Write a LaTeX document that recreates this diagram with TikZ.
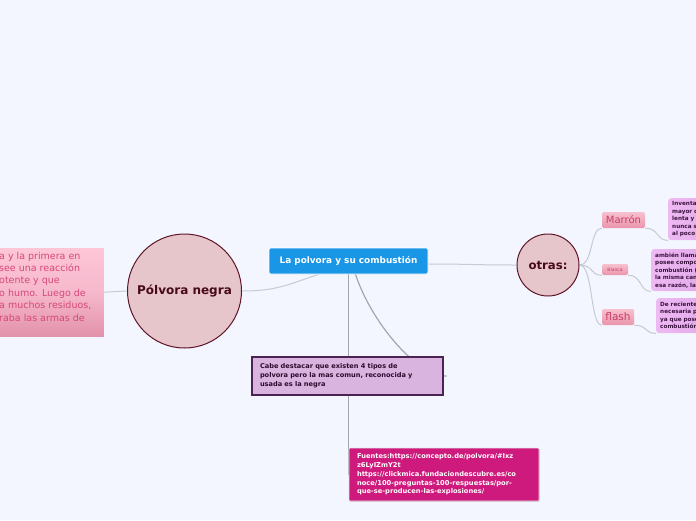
\documentclass[tikz,border=0pt]{standalone}
\usepackage{fontspec}
\setmainfont{DejaVu Sans}
\usetikzlibrary{shadows,calc}
\definecolor{bgc}{RGB}{243,246,254}
\definecolor{lineg}{RGB}{198,202,212}
\definecolor{lined}{RGB}{165,166,172}
\definecolor{circf}{RGB}{230,198,203}
\definecolor{maroon}{RGB}{94,22,40}
\definecolor{maroontxt}{RGB}{72,10,24}
\definecolor{blueC}{RGB}{26,150,230}
\definecolor{cabef}{RGB}{216,180,223}
\definecolor{cabed}{RGB}{75,34,82}
\definecolor{cabet}{RGB}{46,10,46}
\definecolor{fuentf}{RGB}{206,26,124}
\definecolor{pinkA}{RGB}{253,198,215}
\definecolor{pinkM}{RGB}{246,184,204}
\definecolor{pinkB}{RGB}{226,146,170}
\definecolor{pinkT}{RGB}{214,72,120}
\definecolor{labA}{RGB}{248,192,206}
\definecolor{labB}{RGB}{234,148,172}
\definecolor{labT}{RGB}{196,63,104}
\definecolor{purA}{RGB}{238,186,243}
\definecolor{purB}{RGB}{218,158,228}
\definecolor{purT}{RGB}{60,20,64}
\pgfdeclarelayer{back}
\pgfdeclarelayer{canvas}
\pgfsetlayers{canvas,back,main}
\tikzset{
  conn/.style={draw=lineg, line width=1pt},
  connd/.style={draw=lined, line width=1.2pt},
  circnode/.style={circle, draw=maroon, line width=1pt, fill=circf, text=maroontxt, inner sep=0pt},
  labbox/.style={rounded corners=1.5pt, top color=labA, bottom color=labB, text=labT, inner sep=0pt},
  purbox/.style={rounded corners=3pt, left color=purA, right color=purB, text=purT, inner xsep=4pt, inner ysep=0pt, align=left, anchor=north west,
    font=\fontsize{5.7}{7.5}\selectfont\bfseries},
}
\begin{document}
\begin{tikzpicture}[x=1pt,y=-1pt]
\path[use as bounding box] (0,0) rectangle (696,520);
\begin{pgfonlayer}{canvas}
\fill[bgc] (0,0) rectangle (696,520);
\end{pgfonlayer}

% left pink box
\node[anchor=north east, minimum width=160pt, minimum height=88pt, inner sep=0pt,
  top color=pinkA, bottom color=pinkB, middle color=pinkM, draw=none] (pk) at (104,248) {};
\node[anchor=west, inner sep=0pt, align=left, text=pinkT, font=\fontsize{9.5}{12.4}\selectfont] (pkt) at (-1,286.5)
  {a y la primera en\\see una reacción\\otente y que\\o humo. Luego de\\a muchos residuos,\\raba las armas de};

% circles
\node[circnode, minimum size=114pt, font=\fontsize{12}{14}\selectfont\bfseries] (pn) at (184.5,291) {Pólvora negra};
\node[circnode, minimum size=62pt, font=\fontsize{11.7}{14}\selectfont\bfseries] (otras) at (548,265) {otras:};

% central
\node[rounded corners=2pt, fill=blueC, draw=white, line width=0.6pt, text=white, minimum width=159pt, minimum height=26pt,
  inner sep=0pt, font=\fontsize{8.9}{11}\selectfont\bfseries] (central) at (348.5,261) {La polvora y su combustión};

% cabe
\node[fill=cabef, draw=cabed, line width=1.2pt, minimum width=191pt, minimum height=38pt, inner xsep=8pt, inner ysep=0pt,
  text width=175pt, align=left, text=cabet, font=\fontsize{6.6}{9}\selectfont\bfseries,
  drop shadow={shadow xshift=1pt, shadow yshift=-1pt, opacity=0.25}] (cabe) at (347.5,376)
  {Cabe destacar que existen 4 tipos de\\polvora pero la mas comun, reconocida y\\usada es la negra};
\coordinate (cabeend) at ($(cabe.east)+(3,0)$);

% fuentes
\node[fill=fuentf, draw=white!80!gray, line width=0.6pt, rounded corners=1pt, minimum width=190pt, minimum height=53pt,
  inner xsep=8pt, inner ysep=0pt, text width=174pt, align=left, text=white, font=\fontsize{6.7}{8.75}\selectfont\bfseries,
  drop shadow={shadow xshift=0.8pt, shadow yshift=-0.8pt, opacity=0.3}] (fuentes) at (444,474.5)
  {Fuentes:https://concepto.de/polvora/\#Ixz\\z6LyIZmY2t\\https://clickmica.fundaciondescubre.es/co\\noce/100-preguntas-100-respuestas/por-\\que-se-producen-las-explosiones/};

% labels
\node[labbox, minimum width=43pt, minimum height=16pt, font=\fontsize{10}{12}\selectfont] (marron) at (623.5,220) {Marrón};
\node[labbox, minimum width=26pt, minimum height=11pt, font=\fontsize{4.5}{5}\selectfont] (blanca) at (615,269.5) {Blanca};
\node[labbox, minimum width=32pt, minimum height=16pt, font=\fontsize{10.5}{12}\selectfont] (flash) at (618,317) {flash};

% purple boxes
\node[purbox, minimum height=42pt, text width=80pt] (m1) at (668,198) {Inventa\\mayor c\\lenta y\\nunca s\\al poco};
\node[purbox, minimum height=42pt, text width=80pt] (m2) at (651,249) {ambién llama\\posee compor\\combustión (\\la misma cant\\esa razón, la};
\node[purbox, minimum height=35pt, text width=80pt] (m3) at (656,298) {De reciente\\necesaria p\\ya que pose\\combustión,};

\begin{pgfonlayer}{back}
\draw[conn] (pk.east) -- (pn.west);
\draw[conn] (pn.east) .. controls +(35,0) and +(-30,10) .. ($(central.south west)+(50,0)$);
\draw[conn] ($(central.east)+(0,3)$) .. controls +(40,0) and +(-40,0) .. (otras.west);
\draw[connd] (central.south) -- (central.south |- fuentes.west);
\draw[connd] ($(central.south)+(7,0)$) .. controls +(15,46) and +(-31,0) .. (cabeend);
\draw[conn] (otras.east) .. controls +(14,0) and +(-12,0) .. (marron.south west);
\draw[conn] (otras.east) .. controls +(14,0) and +(-12,0) .. (blanca.south west);
\draw[conn] (otras.east) .. controls +(14,0) and +(-12,0) .. (flash.south west);
\draw[conn] (marron.south east) .. controls +(14,0) and +(-12,0) .. (m1.south west);
\draw[conn] (blanca.south east) .. controls +(14,0) and +(-12,0) .. (m2.south west);
\draw[conn] (flash.south east) .. controls +(14,0) and +(-12,0) .. (m3.south west);
\end{pgfonlayer}
\end{tikzpicture}
\end{document}
